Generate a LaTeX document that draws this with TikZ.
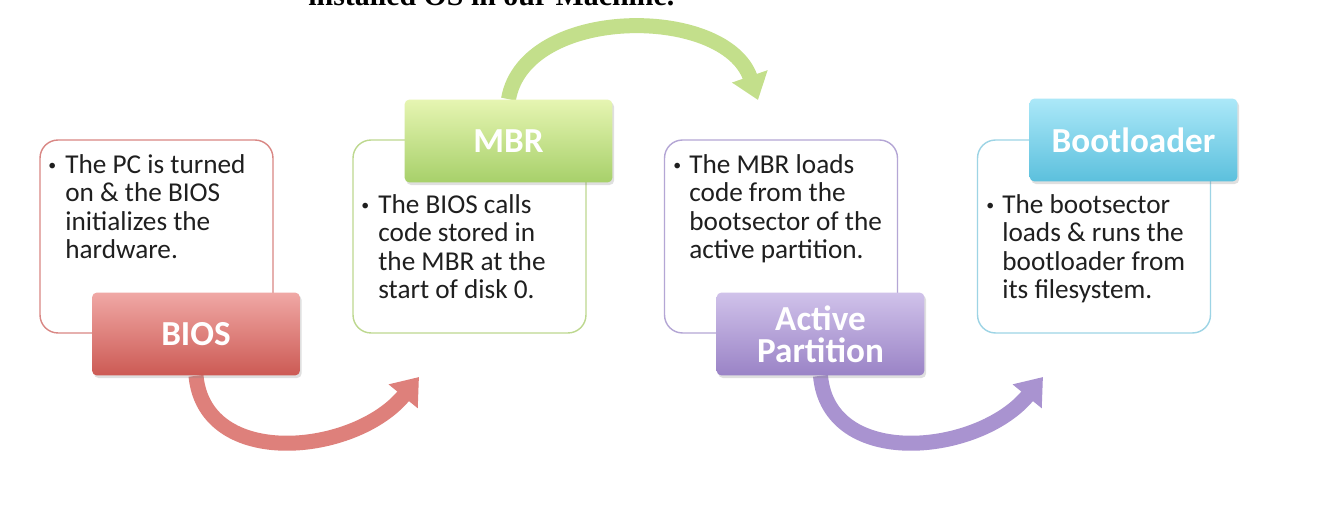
\documentclass[tikz,border=0pt]{standalone}
\usepackage{fontspec}
\setmainfont{Carlito}
\newfontfamily\titlefont{Liberation Serif}
\definecolor{biosline}{HTML}{D98784}
\definecolor{biostop}{HTML}{F0A8A5}
\definecolor{biosbottom}{HTML}{CC5A54}
\definecolor{biosarrow}{HTML}{DE807B}
\definecolor{mbrline}{HTML}{BDD88F}
\definecolor{mbrtop}{HTML}{E6F5B2}
\definecolor{mbrbottom}{HTML}{A7D06A}
\definecolor{mbrarrow}{HTML}{C3DF8B}
\definecolor{partline}{HTML}{B4A6D5}
\definecolor{parttop}{HTML}{D0C2EA}
\definecolor{partbottom}{HTML}{9A83C6}
\definecolor{partarrow}{HTML}{A993D0}
\definecolor{bootline}{HTML}{9DD4E5}
\definecolor{boottop}{HTML}{ABE8F8}
\definecolor{bootbottom}{HTML}{5CC0DD}
\usetikzlibrary{positioning, shadows, arrows.meta, backgrounds}
\tikzset{
	notebox/.style={draw=#1, line width=0.8pt, rounded corners=0.36cm,
			minimum width=4.66cm, minimum height=3.86cm, fill=white}
}
\tikzset{
	headbox/.style 2 args={rounded corners=0.1cm, minimum width=4.16cm, minimum height=1.66cm,
			top color=#1, bottom color=#2, text=white, align=center,
			font=\bfseries\fontsize{20}{18.2}\selectfont,
			drop shadow={opacity=0.25, shadow xshift=1pt, shadow yshift=-1.5pt}}
}
\tikzset{
	notetext/.style={font=\fontsize{15.5}{16.3}\selectfont, align=left, inner sep=0pt, text=black!88}
}
\tikzset{
	bulletdot/.style={font=\fontsize{9}{10}\selectfont, inner sep=0pt, text=black!88}
}
\tikzset{
	curvearrow/.style={line width=0.3cm, draw=#1, -{Triangle[width=0.72cm, length=0.5cm]}}
}

\begin{document}
\begin{tikzpicture}[x=0.02cm, y=-0.02cm]

			\useasboundingbox (0,0) rectangle (1336,506);

			\begin{scope}
				\clip (0,0) rectangle (1336,506);
				\node[anchor=base west, inner sep=0pt] (title) at (308,6)
					{\titlefont\bfseries\fontsize{17}{19}\selectfont installed OS in our Machine.};
			\end{scope}

			\begin{scope}
				\node[notebox=biosline] (noteA) at (156.5,236.5) {};
				\node[notebox=mbrline] (noteB) at (469.5,236.5) {};
				\node[notebox=partline] (noteC) at (781,236.5) {};
				\node[notebox=bootline] (noteD) at (1094,236.5) {};
			\end{scope}

			\begin{scope}
				\node[notetext, anchor=base west] (textA) at (65,259)
					{The PC is turned\\on \& the BIOS\\initializes the\\hardware.};
				\node[notetext, anchor=base west] (textB) at (378,299)
					{The BIOS calls\\code stored in\\the MBR at the\\start of disk 0.};
				\node[notetext, anchor=base west] (textC) at (689,259)
					{The MBR loads\\code from the\\bootsector of the\\active partition.};
				\node[notetext, anchor=base west] (textD) at (1002,299)
					{The bootsector\\loads \& runs the\\bootloader from\\its filesystem.};

				\node[bulletdot, anchor=base west] (dotA) at (48,171) {\textbullet};
				\node[bulletdot, anchor=base west] (dotB) at (361,211) {\textbullet};
				\node[bulletdot, anchor=base west] (dotC) at (673,171) {\textbullet};
				\node[bulletdot, anchor=base west] (dotD) at (986,211) {\textbullet};
			\end{scope}

			\begin{scope}
				\node[headbox={biostop}{biosbottom}] (headA) at (196,334) {BIOS};
				\node[headbox={mbrtop}{mbrbottom}] (headB) at (508.5,141) {MBR};
				\node[headbox={parttop}{partbottom}] (headC) at (820.5,334) {Active\\Partition};
				\node[headbox={boottop}{bootbottom}] (headD) at (1133.5,140) {Bootloader};
			\end{scope}

			\coordinate (tipA) at (419,377);
			\coordinate (tipB) at (758,100);
			\coordinate (tipC) at (1043,377);

			\begin{scope}[on background layer]
				\fill[white] (0,0) rectangle (1336,506);
				\draw[curvearrow=biosarrow] (headA.south) .. controls (205,470) and (355,455) .. (tipA);
				\draw[curvearrow=mbrarrow] (headB.north) .. controls (525,5) and (725,5) .. (tipB);
				\draw[curvearrow=partarrow] (headC.south) .. controls (829,470) and (979,455) .. (tipC);
			\end{scope}

		\end{tikzpicture}
\end{document}
